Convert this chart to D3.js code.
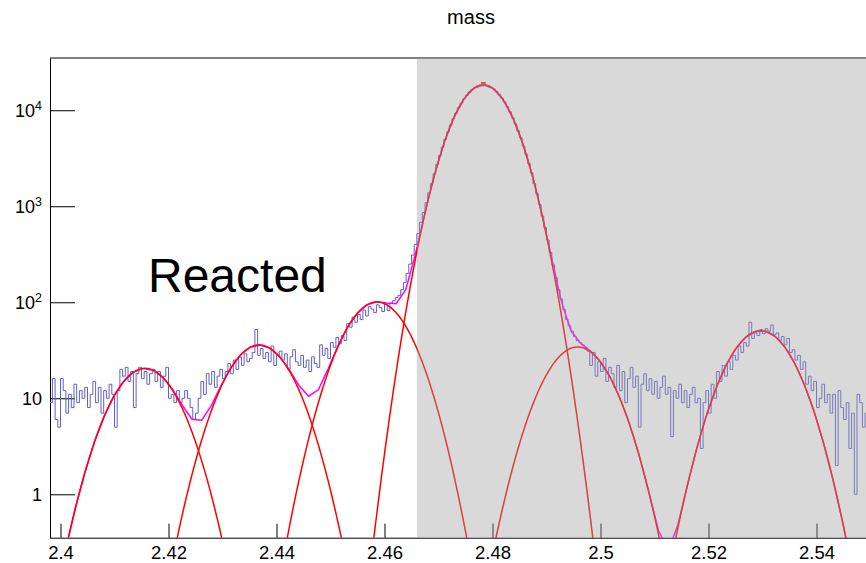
<!DOCTYPE html>
<html><head><meta charset="utf-8">
<script src="https://cdn.jsdelivr.net/npm/d3@7"></script>
<style>body{margin:0;background:#fff}svg{display:block}</style>
</head><body>
<svg id="c" width="866" height="563"></svg>
<script>
// ---- data ----
const binLow = 2.398;
const binWidth = 0.0005;
const counts = [
9,16,6,5,16,12,7,11,8,14,
9,12,10,13,8,11,15,9,13,7,
12,10,14,11,5,12,20,17,21,15,
19,8,18,21,16,19,14,18,20,15,
19,13,17,21,10,
11,9,12,9,10,12,10,8,6,7,
10,15,11,18,14,19,13,17,20,16,
19,23,18,25,20,27,22,29,24,26,
30,52,28,33,26,30,24,35,22,28,
31,25,29,20,27,32,24,22,28,21,
25,19,27,23,21,
36,28,33,26,38,34,43,37,45,40,
60,55,70,62,75,66,83,72,90,85,
78,94,88,80,96,82,98,104,112,118,
135,160,200,250,310,400,520,680,860,1090,
1380,1720,2180,2740,3380,4130,4980,5950,6990,8150,
9340,10650,11880,13190,14330,15480,16410,17260,17810,18240,
18360,18240,17950,17340,16630,15640,14610,13380,12180,10860,
9630,8360,7220,6100,5140,4220,3470,2770,2230,1720,
1350,1040,790,600,445,330,245,180,135,
108,84,66,57,50,44,40,38,36,34,
31,22,30,17,24,19,26,15,21,18,
13,22,12,19,9,16,21,13,17,5,
14,18,12,16,11,15,10,13,17,11,
13,4,12,10,14,9,12,8,11,13,
9,10,3,9,12,7,14,10,19,15,
22,17,24,20,28,25,35,30,38,35,
62,42,48,45,52,47,53,50,58,46,
48,40,44,36,42,30,32,25,28,20,
24,14,17,12,15,8,10,14,9,11,
7,11,2,12,8,6,9,3,7,1,
11,9,5,7,4
];
// Gaussian fit components
const gaussAmp   = [20.5, 35.9, 100.7, 18360, 34.2, 50.6];
const gaussMean  = [2.41565, 2.43681, 2.45861, 2.47830, 2.49576, 2.5297];
const gaussSigma = [0.00498, 0.004996, 0.00494, 0.00435, 0.004996, 0.004995];
const sumFitStep = 0.0018;
const xMajorTicks = [2.4, 2.42, 2.44, 2.46, 2.48, 2.5, 2.52, 2.54];
const xMajorLabels = ["2.4", "2.42", "2.44", "2.46", "2.48", "2.5", "2.52", "2.54"];
const yMajorTicks = [1, 10, 100, 1000, 10000];
const yLabelBase = ["1", "10", "10", "10", "10"];
const yLabelExp = ["", "", "2", "3", "4"];
const shadeFrom = 2.466;
const peakMarker = [2.47830, 18360];
const titleText = "mass";
const noteText = "Reacted";

// ---- layout ----
const FONT = "Liberation Sans, Arial, Helvetica, sans-serif";
const svg = d3.select("#c");
const W = 866, H = 563;
const frame = {left: 50, top: 58, bottom: 537.7};
const x = d3.scaleLinear().domain([2.398, 2.55]).range([49.7, 870.5]);
const y = d3.scaleLog().domain([0.353, 35000]).range([frame.bottom, frame.top]);

svg.append("rect").attr("width", W).attr("height", H).attr("fill", "#fff");

svg.append("defs").append("clipPath").attr("id", "clipF")
  .append("rect").attr("x", frame.left).attr("y", frame.top)
  .attr("width", W - frame.left).attr("height", frame.bottom - frame.top);

// axes
const xMinor = d3.range(2.4, 2.5501, 0.005).map(v => +v.toFixed(3));
const gx = svg.append("g").attr("transform", `translate(0,${frame.bottom})`);
gx.call(d3.axisBottom(x).tickValues(xMinor).tickSize(-7).tickSizeOuter(0).tickFormat(""));
gx.call(d3.axisBottom(x).tickValues(xMajorTicks).tickSize(-14).tickSizeOuter(0).tickPadding(8)
  .tickFormat((d, i) => xMajorLabels[i]));
gx.selectAll("text").attr("font-family", FONT).attr("font-size", 18.5).attr("fill", "#000");
gx.selectAll("line,path").attr("stroke", "#000");

const yMinor = [];
[-1, 0, 1, 2, 3, 4].forEach(e => { for (let m = 2; m <= 9; m++) { const v = m * Math.pow(10, e); if (v > 0.353 && v < 35000) yMinor.push(v); } });
const gy = svg.append("g").attr("transform", `translate(${frame.left},0)`);
gy.call(d3.axisLeft(y).tickValues(yMinor).tickSize(-12).tickSizeOuter(0).tickFormat(""));
gy.call(d3.axisLeft(y).tickValues(yMajorTicks).tickSize(-25).tickSizeOuter(0).tickPadding(8).tickFormat(""));
gy.selectAll("line,path").attr("stroke", "#000");
gy.selectAll(".tick").filter(d => yMajorTicks.includes(d)).each(function(d) {
  const i = yMajorTicks.indexOf(d);
  const t = d3.select(this).append("text")
    .attr("x", -8).attr("dy", "0.36em").attr("text-anchor", "end")
    .attr("font-family", FONT).attr("font-size", 18).attr("fill", "#000");
  t.append("tspan").text(yLabelBase[i]);
  if (yLabelExp[i]) t.append("tspan").attr("dy", "-0.55em").attr("font-size", 12.5).text(yLabelExp[i]);
});

// top frame line
svg.append("line").attr("x1", frame.left).attr("x2", W).attr("y1", frame.top).attr("y2", frame.top)
  .attr("stroke", "#000").attr("stroke-width", 1);

const plot = svg.append("g").attr("clip-path", "url(#clipF)");

// histogram
let p = "";
counts.forEach((c, i) => {
  const x0 = x(binLow + i * binWidth), x1 = x(binLow + (i + 1) * binWidth), yy = y(c);
  p += (i === 0 ? `M${x0},${yy}` : `V${yy}`) + `H${x1}`;
});
plot.append("path").attr("d", p).attr("fill", "none").attr("stroke", "rgb(95,95,200)").attr("stroke-width", 1);

// fit functions
const gauss = (k, v) => gaussAmp[k] * Math.exp(-Math.pow(v - gaussMean[k], 2) / (2 * gaussSigma[k] * gaussSigma[k]));
const line = d3.line().x(d => x(d[0])).y(d => y(Math.max(d[1], 1e-3)));

const sumX = d3.range(2.42435 - 14 * sumFitStep, 2.56, sumFitStep);
plot.append("path").datum(sumX.map(v => [v, gaussAmp.reduce((s, _, k) => s + gauss(k, v), 0)]))
  .attr("d", line).attr("fill", "none").attr("stroke", "#ff00ff").attr("stroke-width", 1.5);

const fineX = d3.range(2.396, 2.56, 0.0002);
gaussAmp.forEach((_, k) => {
  plot.append("path").datum(fineX.map(v => [v, gauss(k, v)]))
    .attr("d", line).attr("fill", "none").attr("stroke", "#ff0000").attr("stroke-width", 1.5);
});

// peak marker
const mx = x(peakMarker[0]), my = y(peakMarker[1]);
plot.append("path").attr("d", `M${mx - 3},${my - 3}L${mx + 3},${my - 3}L${mx},${my + 2}Z`).attr("fill", "#e03030");

// shaded region
svg.append("rect").attr("x", x(shadeFrom)).attr("y", frame.top)
  .attr("width", W - x(shadeFrom)).attr("height", frame.bottom - frame.top - 0.5)
  .attr("fill", "rgb(160,160,160)").attr("fill-opacity", 0.4);

// texts
svg.append("text").attr("x", 471).attr("y", 24).attr("text-anchor", "middle")
  .attr("font-family", FONT).attr("font-size", 20).text(titleText);
svg.append("text").attr("x", 148).attr("y", 292)
  .attr("font-family", FONT).attr("font-size", 48).text(noteText);
</script>
</body></html>
